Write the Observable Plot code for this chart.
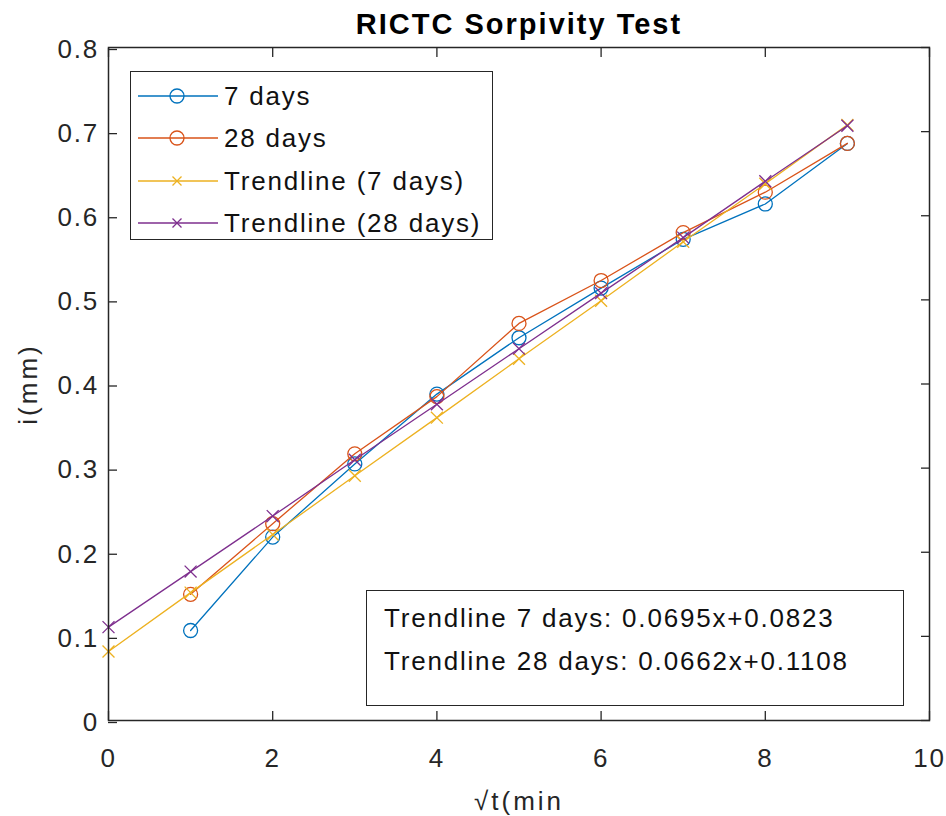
<!DOCTYPE html>
<html>
<head>
<meta charset="utf-8">
<script src="https://cdn.jsdelivr.net/npm/d3@7"></script>
<script src="https://cdn.jsdelivr.net/npm/@observablehq/plot@0.6"></script>
<style>
  html, body { margin: 0; padding: 0; background: #fff; }
  #wrap { position: relative; width: 946px; height: 816px; font-family: "Liberation Sans", Arial, sans-serif; }
  .box { position: absolute; background: #fff; border: 1.5px solid #262626; box-sizing: border-box; color: #111; font-size: 26px; letter-spacing: 1.8px; }
  .row { position: absolute; left: 0; width: 100%; height: 42px; }
  .row svg { position: absolute; left: 6px; top: 0; }
  .row span { position: absolute; left: 93px; top: 0; line-height: 42px; white-space: nowrap; }
  .note div { line-height: 43px; white-space: nowrap; }
</style>
</head>
<body>
<div id="wrap"></div>
<script>
// ---- data ----
const xMeasured = [1, 2, 3, 4, 5, 6, 7, 8, 9];
const days7 = [0.107, 0.218, 0.305, 0.388, 0.455, 0.514, 0.572, 0.614, 0.686];
const days28 = [0.150, 0.234, 0.317, 0.385, 0.472, 0.523, 0.580, 0.628, 0.686];
const xTrend = [0, 1, 2, 3, 4, 5, 6, 7, 8, 9];
const trend7 = [0.082, 0.152, 0.221, 0.291, 0.360, 0.430, 0.499, 0.569, 0.638, 0.708];
const trend28 = [0.111, 0.177, 0.243, 0.310, 0.376, 0.442, 0.508, 0.574, 0.641, 0.707];
const seriesNames = ["7 days", "28 days", "Trendline (7 days)", "Trendline (28 days)"];
const seriesColors = ["#0072BD", "#D95319", "#EDB120", "#7E2F8E"];
const seriesSymbols = ["circle", "circle", "times", "times"];
const xTicks = [0, 2, 4, 6, 8, 10];
const yTicks = [0, 0.1, 0.2, 0.3, 0.4, 0.5, 0.6, 0.7, 0.8];
const yTickLabels = ["0", "0.1", "0.2", "0.3", "0.4", "0.5", "0.6", "0.7", "0.8"];
const titleText = "RICTC Sorpivity Test";
const xLabel = "\u221At(min";
const yLabel = "i(mm)";
const noteLines = ["Trendline 7 days: 0.0695x+0.0823", "Trendline 28 days: 0.0662x+0.1108"];

// ---- build tables ----
const seriesData = [
  xMeasured.map((x, i) => ({x, y: days7[i]})),
  xMeasured.map((x, i) => ({x, y: days28[i]})),
  xTrend.map((x, i) => ({x, y: trend7[i]})),
  xTrend.map((x, i) => ({x, y: trend28[i]}))
];

const seriesMarks = seriesData.flatMap((data, k) => [
  Plot.line(data, {x: "x", y: "y", stroke: seriesColors[k], strokeWidth: 1.3}),
  Plot.dot(data, {
    x: "x", y: "y", stroke: seriesColors[k], fill: "none",
    symbol: seriesSymbols[k], r: seriesSymbols[k] === "circle" ? 7 : 5.5, strokeWidth: 1.3
  })
]);

const chart = Plot.plot({
  width: 946,
  height: 816,
  marginLeft: 108,
  marginRight: 17,
  marginTop: 47,
  marginBottom: 96,
  style: {
    fontFamily: '"Liberation Sans", Arial, sans-serif',
    fontSize: "26px",
    color: "#262626",
    background: "white",
    letterSpacing: "1.8px",
    overflow: "visible"
  },
  x: {domain: [0, 10]},
  y: {domain: [0, 0.8]},
  marks: [
    ...seriesMarks,
    Plot.frame({stroke: "#262626", strokeWidth: 1.5}),
    Plot.axisX({anchor: "bottom", ticks: xTicks, tickSize: -9, tickPadding: 37, tickFormat: d => String(d), label: null, stroke: "#262626", strokeWidth: 1.3, fill: "#262626", fontSize: 26}),
    Plot.axisX({anchor: "top", ticks: xTicks, tickSize: -9, tickFormat: () => "", label: null, stroke: "#262626", strokeWidth: 1.3}),
    Plot.axisY({anchor: "left", ticks: yTicks, tickSize: -9, tickPadding: 18.5, tickFormat: (d, i) => yTickLabels[i], label: null, stroke: "#262626", strokeWidth: 1.3, fill: "#262626", dy: 2, fontSize: 26}),
    Plot.axisY({anchor: "right", ticks: yTicks, tickSize: -9, tickFormat: () => "", label: null, stroke: "#262626", strokeWidth: 1.3}),
    Plot.text([titleText], {text: d => d, frameAnchor: "top", dy: -23, textAnchor: "middle", lineAnchor: "middle", fontSize: 29, fontWeight: "bold", fill: "#000"}),
    Plot.text([xLabel], {text: d => d, frameAnchor: "bottom", dy: 81, textAnchor: "middle", lineAnchor: "middle", fontSize: 26, fill: "#262626"}),
    Plot.text([yLabel], {text: d => d, frameAnchor: "left", dx: -80, rotate: -90, textAnchor: "middle", lineAnchor: "middle", fontSize: 26, fill: "#262626"})
  ]
});

const wrap = document.getElementById("wrap");
wrap.appendChild(chart);
chart.querySelectorAll("text").forEach(t => {
  if (t.textContent === titleText) t.style.letterSpacing = "2px";
  if (t.textContent === xLabel || t.textContent === yLabel) t.style.letterSpacing = "3px";
});

// ---- legend ----
const legend = document.createElement("div");
legend.className = "box";
Object.assign(legend.style, {left: "130px", top: "71px", width: "363px", height: "169px"});
seriesNames.forEach((name, k) => {
  const row = document.createElement("div");
  row.className = "row";
  row.style.top = (3 + k * 42.3) + "px";
  const sym = seriesSymbols[k] === "circle"
    ? `<circle cx="40" cy="21" r="7" fill="none" stroke="${seriesColors[k]}" stroke-width="1.3"/>`
    : `<path d="M35.5,16.5L44.5,25.5M35.5,25.5L44.5,16.5" stroke="${seriesColors[k]}" stroke-width="1.3"/>`;
  row.innerHTML = `<svg width="82" height="42"><line x1="1" x2="81" y1="21" y2="21" stroke="${seriesColors[k]}" stroke-width="1.3"/>${sym}</svg><span>${name}</span>`;
  legend.appendChild(row);
});
wrap.appendChild(legend);

// ---- equation note ----
const note = document.createElement("div");
note.className = "box note";
Object.assign(note.style, {left: "366px", top: "590px", width: "538px", height: "116px", paddingTop: "5.5px", paddingLeft: "17px"});
noteLines.forEach(t => {
  const d = document.createElement("div");
  d.textContent = t;
  note.appendChild(d);
});
wrap.appendChild(note);
</script>
</body>
</html>
